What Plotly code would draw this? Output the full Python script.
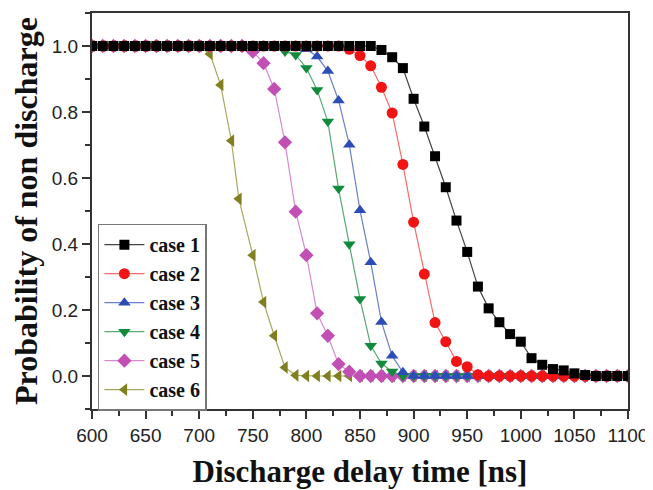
import plotly.graph_objects as go

# Discharge delay time grid [ns]
time_ns = list(range(600, 1101, 10))

def pad(head_until, vals, total=51):
    """Build series: 1.0 up to given index, then listed values, then zeros."""
    return [1.0] * head_until + vals + [0.0] * (total - head_until - len(vals))

# Probability of non discharge
case1_vals = [0.988, 0.966, 0.933, 0.840, 0.756, 0.666, 0.572, 0.471, 0.376, 0.271,
              0.205, 0.163, 0.127, 0.104, 0.054, 0.034, 0.021, 0.017, 0.008, 0.003]
case2_vals = [0.990, 0.971, 0.940, 0.875, 0.797, 0.641, 0.466, 0.309, 0.162, 0.104,
              0.044, 0.028, 0.004]
case3_vals = [0.990, 0.968, 0.924, 0.835, 0.701, 0.502, 0.345, 0.164, 0.061, 0.011]
case4_vals = [0.983, 0.973, 0.933, 0.867, 0.771, 0.568, 0.399, 0.233, 0.092, 0.038, 0.014]
case5_vals = [0.983, 0.948, 0.870, 0.708, 0.498, 0.366, 0.190, 0.122, 0.036, 0.013]
case6_vals = [0.976, 0.882, 0.713, 0.537, 0.366, 0.224, 0.122, 0.026, 0.002]

case1 = pad(27, case1_vals)   # starts at 870
case2 = pad(24, case2_vals)   # starts at 840
case3 = pad(20, case3_vals)   # starts at 800
case4 = pad(18, case4_vals)   # starts at 780
case5 = pad(15, case5_vals)   # starts at 750
case6 = pad(11, case6_vals)   # starts at 710

time_case6 = list(time_ns)
time_case6[14] = 737

series_names = ["case 1", "case 2", "case 3", "case 4", "case 5", "case 6"]
series_y = [case1, case2, case3, case4, case5, case6]
series_x = [time_ns, time_ns, time_ns, time_ns, time_ns, time_case6]
colors = ["#000000", "#f01414", "#2c4db8", "#118a3c", "#c24fb4", "#808020"]
line_colors = ["#444444", "#f56a6a", "#6a80cc", "#55aa72", "#d88acc", "#a8a860"]
symbols = ["square", "circle", "triangle-up", "triangle-down", "diamond", "triangle-left"]
sizes = [10, 11, 11, 11, 11, 11]

x_ticks = list(range(600, 1101, 50))
y_ticks = [0.0, 0.2, 0.4, 0.6, 0.8, 1.0]

fig = go.Figure()
# draw case 6 first so case 1 is on top
for i in reversed(range(6)):
    fig.add_trace(go.Scatter(
        x=series_x[i], y=series_y[i], name=series_names[i],
        mode="lines+markers",
        line=dict(color=line_colors[i], width=1.2),
        marker=dict(symbol=symbols[i], size=sizes[i], color=colors[i],
                    line=dict(width=0)),
        legendrank=i + 1,
    ))

axis_common = dict(
    showline=True, linecolor="#333333", linewidth=2, mirror=True,
    ticks="outside", ticklen=8, tickwidth=1.5, tickcolor="#333333",
    showgrid=False, zeroline=False, automargin=False,
    tickfont=dict(family="Liberation Sans", size=19, color="#222222"),
)

fig.update_xaxes(
    range=[600, 1100], tickvals=x_ticks, ticktext=[str(v) for v in x_ticks],
    minor=dict(dtick=25, tick0=600, ticks="outside", ticklen=5, tickwidth=1.5,
               tickcolor="#333333"),
    title=dict(text="Discharge delay time [ns]", standoff=16,
               font=dict(family="Liberation Serif", size=31, color="#111111",
                         weight="bold")),
    **axis_common,
)
fig.update_yaxes(
    range=[-0.1, 1.1], tickvals=y_ticks, ticktext=[f"{v:.1f}" for v in y_ticks],
    minor=dict(dtick=0.1, tick0=0, ticks="outside", ticklen=5, tickwidth=1.5,
               tickcolor="#333333"),
    title=dict(text="Probability of non discharge", standoff=17,
               font=dict(family="Liberation Serif", size=32, color="#111111",
                         weight="bold")),
    **axis_common,
)

# page body adds an 8 px margin, so the figure is sized 8 px smaller
fig.update_layout(
    width=645, height=482,
    margin=dict(l=84, r=25, t=5, b=81),
    paper_bgcolor="white", plot_bgcolor="white",
    showlegend=True,
    legend=dict(
        x=0.011, y=0.468, xanchor="left", yanchor="top",
        bgcolor="white", bordercolor="#777777", borderwidth=1.5,
        font=dict(family="Liberation Serif", size=20, color="#111111", weight="bold"),
        tracegroupgap=0, itemwidth=40,
    ),
)

fig.write_html("out.html")
